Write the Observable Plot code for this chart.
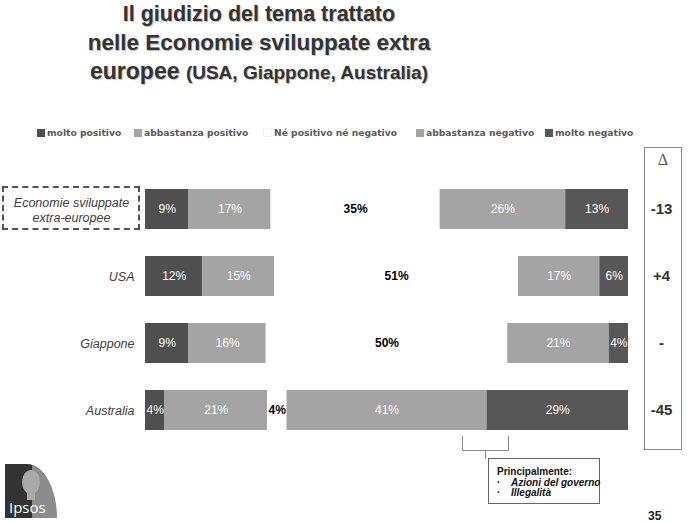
<!DOCTYPE html>
<html>
<head>
<meta charset="utf-8">
<script src="https://cdn.jsdelivr.net/npm/d3@7"></script>
<script src="https://cdn.jsdelivr.net/npm/@observablehq/plot@0.6"></script>
<style>
  html, body { margin: 0; padding: 0; background: #fff; }
  #page { position: relative; width: 688px; height: 524px; overflow: hidden; font-family: "Liberation Sans", Arial, sans-serif; }
  #chart { position: absolute; left: 0; top: 0; }
  .abs { position: absolute; }
  .title { left: 0; width: 518px; text-align: center; font-weight: bold; color: #333; text-shadow: 1px 1px 1px #bbb; white-space: nowrap; line-height: 28px; }
  .leg { top: 127px; font-family: "DejaVu Sans", sans-serif; font-weight: bold; font-size: 9.2px; color: #5a5a5a; white-space: nowrap; line-height: 12px; }
  .sw { display: inline-block; width: 8px; height: 8px; margin-right: 2px; vertical-align: -1px; }
  .note { position: absolute; white-space: nowrap; font-weight: bold; }
</style>
</head>
<body>
<div id="page">
  <div id="chart"></div>
  <div class="abs title" style="top:0px;font-size:21.5px;">Il giudizio del tema trattato</div>
  <div class="abs title" style="top:29px;font-size:22.5px;">nelle Economie sviluppate extra</div>
  <div class="abs title" style="top:57px;font-size:23px;">europee <span style="font-size:19px;">(USA, Giappone, Australia)</span></div>

  <div id="legend"></div>

  <div class="abs" style="left:2px;top:186px;width:134px;height:40px;border:2px dashed #555;"></div>
  <div class="abs" style="left:644px;top:147px;width:36px;height:301px;border:1px solid #8a8a8a;"></div>
  <div class="abs" style="left:644px;top:151px;width:38px;text-align:center;font-family:'Liberation Serif','DejaVu Serif',serif;font-size:16px;color:#555;">Δ</div>

  <svg class="abs" style="left:0;top:0;" width="688" height="524">
    <path d="M462.5,436 V450.5 H508.5 V436 M485.5,450.5 V459" fill="none" stroke="#8a8a8a" stroke-width="1"/>
  </svg>
  <div class="abs" style="left:488px;top:458px;width:110px;height:44px;border:1px solid #666;background:#fff;font-size:10px;color:#111;line-height:11px;">
    <div class="note" style="left:8px;top:7px;">Principalmente:</div>
    <div class="note" style="left:8px;top:18px;">·</div>
    <div class="note" style="left:22px;top:18px;font-style:italic;">Azioni del governo</div>
    <div class="note" style="left:8px;top:28px;">·</div>
    <div class="note" style="left:22px;top:28px;font-style:italic;">Illegalità</div>
  </div>
  <div class="abs" style="left:648px;top:509px;font-size:12px;font-weight:bold;color:#222;">35</div>

  <div class="abs" style="left:5px;top:464px;width:52px;height:54px;background:linear-gradient(90deg,#333 0%,#333 52%,#8c8c8c 52%,#8c8c8c 100%);border-top-right-radius:30px 54px;overflow:hidden;">
    <div style="position:absolute;left:17px;top:6px;width:18px;height:24px;border-radius:50%;background:#aaa;"></div>
    <div style="position:absolute;left:22px;top:26px;width:8px;height:10px;background:#aaa;"></div>
    <div style="position:absolute;left:4px;top:35px;color:#fff;font-size:15px;line-height:16px;white-space:nowrap;font-family:'Open Sans','DejaVu Sans',sans-serif;">Ipsos</div>
  </div>
</div>
<script>
const rows = ["Economie sviluppate extra-europee", "USA", "Giappone", "Australia"];
const rowLabels = ["Economie sviluppate\nextra-europee", "USA", "Giappone", "Australia"];
const categories = ["molto positivo", "abbastanza positivo", "Né positivo né negativo", "abbastanza negativo", "molto negativo"];
const valuesEconomie = [9, 17, 35, 26, 13];
const valuesUSA = [12, 15, 51, 17, 6];
const valuesGiappone = [9, 16, 50, 21, 4];
const valuesAustralia = [4, 21, 4, 41, 29];
const deltas = ["-13", "+4", "-", "-45"];
const colors = ["#4f4f4f", "#a4a4a4", "#ffffff", "#a4a4a4", "#575757"];

const allValues = [valuesEconomie, valuesUSA, valuesGiappone, valuesAustralia];
const data = rows.flatMap((r, i) => categories.map((c, j) => ({row: r, cat: c, value: allValues[i][j]})));
const middle = categories[2];

// Legend
const legendX = [37, 134, 263, 416, 545];
const legend = document.getElementById("legend");
categories.forEach((c, j) => {
  const d = document.createElement("div");
  d.className = "abs leg";
  d.style.left = legendX[j] + "px";
  d.innerHTML = `<span class="sw" style="background:${colors[j]};${j === 2 ? "border:1px solid #f2f2f2;width:7px;height:7px;" : ""}"></span>${c}`;
  legend.appendChild(d);
});

const font = "Liberation Sans, Arial, sans-serif";
const chart = Plot.plot({
  width: 688,
  height: 524,
  marginLeft: 145,
  marginRight: 60,
  marginTop: 167.7,
  marginBottom: 72.6,
  x: {domain: [0, 1], axis: null},
  y: {domain: rows, axis: null, paddingInner: 0.41, paddingOuter: 0.3},
  color: {domain: categories, range: colors},
  marks: [
    Plot.barX(data, Plot.stackX({x: "value", y: "row", fill: "cat", offset: "normalize"})),
    Plot.text(data, Plot.stackX({
      x: "value", y: "row", offset: "normalize",
      text: d => d.cat === middle ? null : d.value + "%",
      fill: "white", fontSize: 12, fontFamily: font
    })),
    Plot.text(data, Plot.stackX({
      x: "value", y: "row", offset: "normalize",
      text: d => d.cat === middle ? d.value + "%" : null,
      fill: "black", fontWeight: "bold", fontSize: 12, fontFamily: font
    })),
    Plot.text(rows.slice(1), {
      x: d => 0, y: d => d, text: d => rowLabels[rows.indexOf(d)],
      dx: -11, textAnchor: "end", fill: "#404040", fontSize: 12.5, fontStyle: "italic", fontFamily: font
    }),
    Plot.text(rows.slice(0, 1), {
      x: d => 0, y: d => d, text: d => rowLabels[0],
      dx: -74, textAnchor: "middle", lineHeight: 1.2, fill: "#404040", fontSize: 12.5, fontStyle: "italic", fontFamily: font
    }),
    Plot.text(rows, {
      x: d => 1, y: d => d, text: (d, i) => deltas[i],
      dx: 33, fill: "#333", fontSize: 15, fontWeight: "bold", fontFamily: font
    })
  ]
});
document.getElementById("chart").appendChild(chart);
</script>
</body>
</html>
